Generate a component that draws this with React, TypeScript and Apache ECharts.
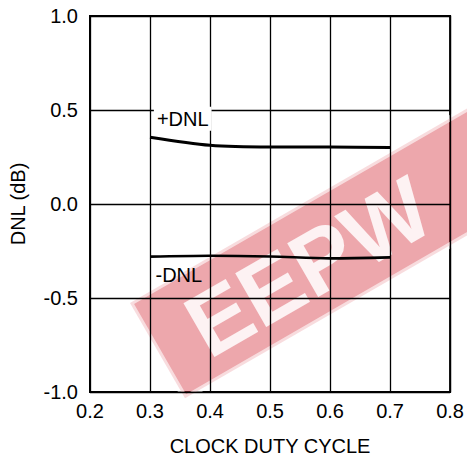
import React, { useEffect, useRef } from "react";
import * as echarts from "echarts";

const dutyCycle = [0.3, 0.4, 0.5, 0.6, 0.7];
const plusDNL = [0.355, 0.312, 0.303, 0.303, 0.3];
const minusDNL = [-0.28, -0.275, -0.279, -0.289, -0.284];
const plusLabel = { x: 0.3545, y: 0.453, text: "+DNL" };
const minusLabel = { x: 0.348, y: -0.376, text: "-DNL" };
const xTitle = "CLOCK DUTY CYCLE";
const yTitle = "DNL (dB)";
const watermarkText = "EEPW";

const FONT = "Liberation Sans, Arial, sans-serif";

export default function App() {
  const ref = useRef<HTMLDivElement>(null);
  useEffect(() => {
    if (!ref.current) return;
    const chart = echarts.init(ref.current, null, { renderer: "svg" });
    const textStyle = { color: "#000", fontSize: 20, fontFamily: FONT };
    chart.setOption({
      animation: false,
      backgroundColor: "#fff",
      grid: {
        left: 90,
        right: 13,
        top: 16,
        bottom: 65,
        show: true,
        borderColor: "#000",
        borderWidth: 2,
        backgroundColor: "transparent",
      },
      xAxis: {
        type: "value",
        min: 0.2,
        max: 0.8,
        interval: 0.1,
        name: xTitle,
        nameLocation: "middle",
        nameGap: 44,
        nameTextStyle: textStyle,
        axisLine: { show: false },
        axisTick: { show: false },
        axisLabel: { ...textStyle, margin: 9, formatter: (v: number) => v.toFixed(1) },
        splitLine: { show: true, lineStyle: { color: "#000", width: 1.3 } },
      },
      yAxis: {
        type: "value",
        min: -1,
        max: 1,
        interval: 0.5,
        name: yTitle,
        nameLocation: "middle",
        nameGap: 62,
        nameTextStyle: textStyle,
        axisLine: { show: false },
        axisTick: { show: false },
        axisLabel: { ...textStyle, margin: 12, formatter: (v: number) => v.toFixed(1) },
        splitLine: { show: true, lineStyle: { color: "#000", width: 1.3 } },
      },
      series: [
        {
          type: "line",
          data: dutyCycle.map((x, i) => [x, plusDNL[i]]),
          smooth: 0.3,
          symbol: "none",
          lineStyle: { color: "#000", width: 3 },
          markPoint: {
            symbol: "rect",
            symbolSize: 0,
            data: [
              {
                coord: [plusLabel.x, plusLabel.y],
                label: {
                  show: true,
                  position: "inside",
                  formatter: plusLabel.text,
                  ...textStyle,
                  backgroundColor: "#fff",
                  padding: [2, 3],
                },
              },
            ],
          },
        },
        {
          type: "line",
          data: dutyCycle.map((x, i) => [x, minusDNL[i]]),
          smooth: 0.3,
          symbol: "none",
          lineStyle: { color: "#000", width: 2.6 },
          markPoint: {
            symbol: "rect",
            symbolSize: 0,
            data: [
              {
                coord: [minusLabel.x, minusLabel.y],
                label: {
                  show: true,
                  position: "inside",
                  formatter: minusLabel.text,
                  ...textStyle,
                },
              },
            ],
          },
        },
      ],
      graphic: [
        {
          type: "group",
          x: 130,
          y: 303,
          rotation: Math.PI / 6,
          z: 100,
          children: [
            {
              type: "rect",
              shape: { x: 0, y: 0, width: 420, height: 110 },
              style: {
                fill: "rgba(214,60,72,0.45)",
                stroke: "rgba(255,255,255,0.6)",
                lineWidth: 6,
              },
            },
            {
              type: "text",
              x: 40,
              y: 58,
              style: {
                text: watermarkText,
                font: "bold 90px " + FONT,
                fill: "rgba(255,255,255,0.85)",
                verticalAlign: "middle",
                align: "left",
              },
            },
          ],
        },
      ],
    });
    return () => chart.dispose();
  }, []);
  return <div ref={ref} style={{ width: 467, height: 461, position: "absolute", left: 0, top: 0 }} />;
}
